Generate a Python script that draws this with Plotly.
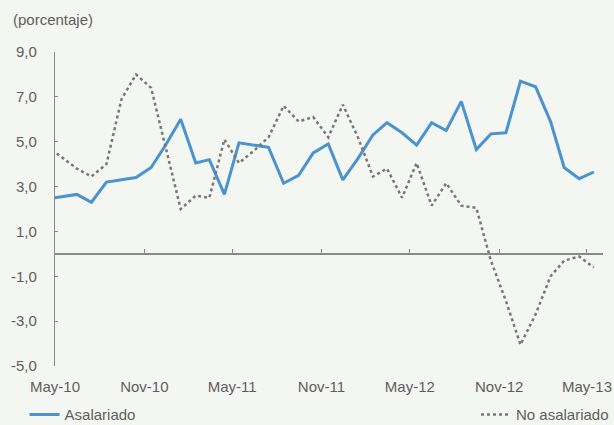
import pandas as pd
import plotly.graph_objects as go

# meses: abr-10 (queda recortado por el eje) a may-13, dato a mitad de mes
meses = pd.date_range(start="2010-04-01", end="2013-05-01", freq="MS") + pd.Timedelta(days=14)

asalariado = [2.45, 2.55, 2.65, 2.3, 3.2, 3.3, 3.4, 3.85, 4.85,
              6.0, 4.05, 4.2, 2.65, 4.95, 4.85, 4.75, 3.15, 3.5, 4.5, 4.9, 3.3,
              4.25, 5.3, 5.85, 5.4, 4.85, 5.85, 5.5, 6.8, 4.65, 5.35, 5.4, 7.7,
              7.45, 5.9, 3.85, 3.35, 3.65]
no_asalariado = [4.8, 4.3, 3.8, 3.45, 4.0, 6.9, 8.0, 7.4, 4.7,
                 2.0, 2.6, 2.5, 5.1, 4.05, 4.6, 5.2, 6.6, 5.9, 6.1, 5.2, 6.65,
                 5.2, 3.45, 3.8, 2.5, 4.05, 2.15, 3.15, 2.15, 2.05, -0.3, -2.1, -4.05,
                 -2.7, -1.0, -0.3, -0.12, -0.6]

tick_fechas = ["2010-05-01", "2010-11-01", "2011-05-01", "2011-11-01",
               "2012-05-01", "2012-11-01", "2013-05-01"]
tick_textos = ["May-10", "Nov-10", "May-11", "Nov-11", "May-12", "Nov-12", "May-13"]
y_ticks = [-5, -3, -1, 1, 3, 5, 7, 9]
y_textos = ["-5,0", "-3,0", "-1,0", "1,0", "3,0", "5,0", "7,0", "9,0"]

gris = "#8a8a8a"
texto = "#5e5e5e"
fondo = "#f4f6f2"
x_rango = ["2010-05-01", "2013-06-03"]

fig = go.Figure()
fig.add_trace(go.Scatter(x=meses, y=asalariado, name="Asalariado", mode="lines",
                         line=dict(color="#4a93cf", width=3),
                         legend="legend", showlegend=True))
fig.add_trace(go.Scatter(x=meses, y=no_asalariado, name="No asalariado", mode="lines",
                         line=dict(color="#777777", width=2.5, dash="dot"),
                         xaxis="x2", legend="legend2", showlegend=True))

fig.update_layout(
    width=614, height=425,
    showlegend=True,
    margin=dict(l=55, r=11, t=52, b=59, autoexpand=False),
    paper_bgcolor=fondo, plot_bgcolor=fondo,
    font=dict(family="Liberation Sans, Arial, sans-serif", size=15, color=texto),
    xaxis=dict(range=x_rango, tickvals=tick_fechas, ticktext=tick_textos,
               showgrid=False, zeroline=False, showline=False, ticks="",
               ticklabelstandoff=10, automargin=False),
    xaxis2=dict(range=x_rango, overlaying="x", anchor="free", position=5 / 14,
                side="bottom", showticklabels=False, showgrid=False, zeroline=False,
                showline=True, linecolor=gris, linewidth=1.5,
                tickvals=tick_fechas, ticks="inside", ticklen=4, tickcolor=gris),
    yaxis=dict(range=[-5, 9], tickvals=y_ticks, ticktext=y_textos,
               showgrid=False, zeroline=False, showline=True, linecolor=gris,
               linewidth=1.2, ticks="inside", ticklen=3, tickcolor=gris,
               ticklabelstandoff=14, automargin=False),
    legend=dict(xref="container", yref="container", x=0.04, y=0.024,
                xanchor="left", yanchor="middle", visible=True,
                bgcolor="rgba(0,0,0,0)", font=dict(size=15, color=texto)),
    legend2=dict(xref="container", yref="container", x=1.0, y=0.024,
                 xanchor="right", yanchor="middle", visible=True,
                 bgcolor="rgba(0,0,0,0)", font=dict(size=15, color=texto)),
    annotations=[dict(text="(porcentaje)", xref="paper", yref="paper",
                      x=-0.08, y=1.105, xanchor="left", yanchor="middle",
                      showarrow=False, font=dict(size=15, color=texto))],
)

# quitar el margen por defecto del body para que la figura ocupe toda la ventana
fig.write_html("out.html", config={"displayModeBar": False},
               post_script="document.body.style.margin='0';"
                           "document.body.style.background='#f4f6f2';")
